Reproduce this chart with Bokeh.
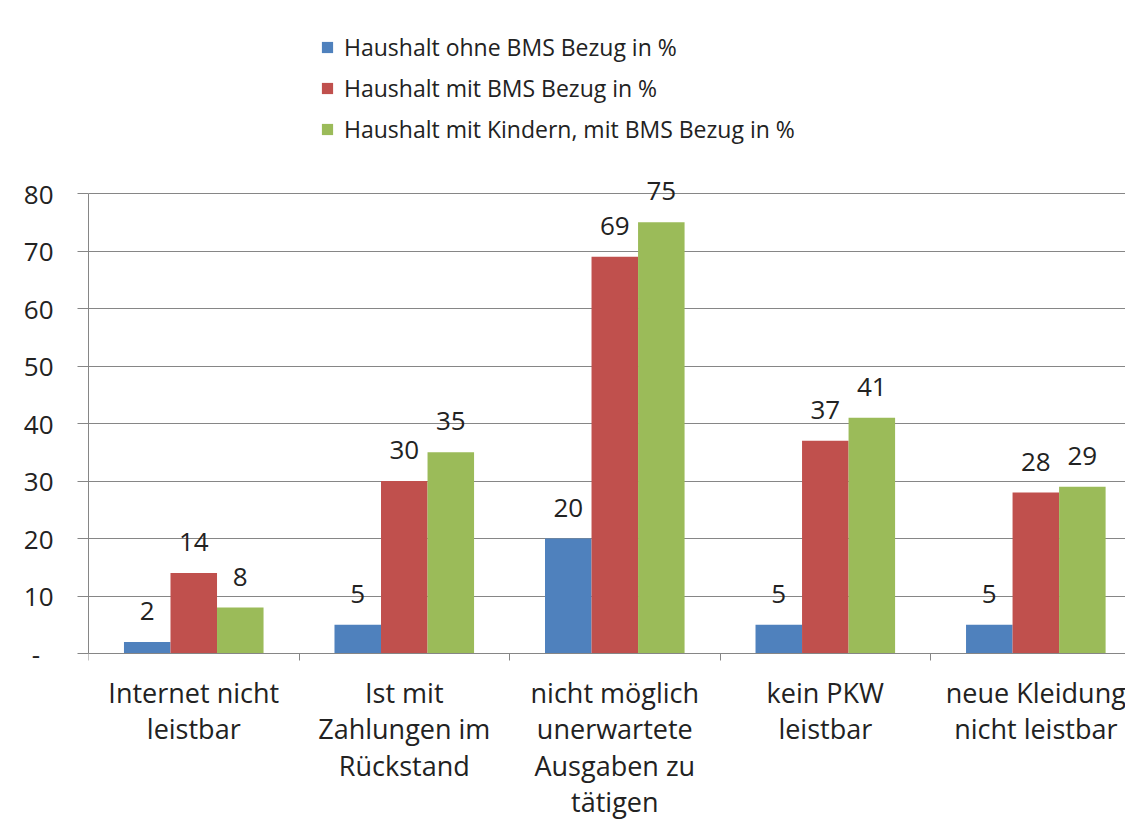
from bokeh.plotting import figure
from bokeh.models import (Range1d, FixedTicker, LabelSet, ColumnDataSource, Legend, LegendItem)
from bokeh.core.properties import value
from bokeh.embed import file_html
from bokeh.resources import INLINE

categories = ["Internet nicht\nleistbar", "Ist mit\nZahlungen im\nRückstand",
              "nicht möglich\nunerwartete\nAusgaben zu\ntätigen", "kein PKW\nleistbar",
              "neue Kleidung\nnicht leistbar"]
series_names = ["Haushalt ohne BMS Bezug in %", "Haushalt mit BMS Bezug in %",
                "Haushalt mit Kindern, mit BMS Bezug in %"]
ohne_bms = [2, 5, 20, 5, 5]
mit_bms = [14, 30, 69, 37, 28]
mit_kindern = [8, 35, 75, 41, 29]
y_ticks = [0, 10, 20, 30, 40, 50, 60, 70, 80]

colors = ["#4F81BD", "#C0504D", "#9BBB59"]
FONT = "Open Sans"
TXT = "#222222"
GRID = "#868686"

p = figure(width=1125, height=820, output_backend="svg", toolbar_location=None,
           x_range=Range1d(0, 4.926), y_range=Range1d(-29.04, 113.57),
           min_border_left=88, min_border_right=0, min_border_top=0,
           min_border_bottom=0)
p.outline_line_color = None
p.background_fill_color = "white"
p.border_fill_color = "white"

bw = 0.221
offsets = [-bw, 0.0, bw]
all_series = [ohne_bms, mit_bms, mit_kindern]
renderers = []
for k, vals in enumerate(all_series):
    xs = [i + 0.5 + offsets[k] for i in range(len(categories))]
    src = ColumnDataSource(dict(x=xs, top=vals, lbl=[str(v) for v in vals]))
    r = p.vbar(x="x", top="top", width=bw, bottom=0, source=src,
               fill_color=colors[k], line_color=None)
    renderers.append(r)
    p.add_layout(LabelSet(x="x", y="top", text="lbl", source=src, y_offset=22,
                          text_align="center", text_baseline="alphabetic",
                          text_font=value(FONT), text_font_size=value("26px"),
                          text_color=TXT))

# category labels, one centred line at a time
lx, ly, lt, loff = [], [], [], []
for i, c in enumerate(categories):
    for j, line in enumerate(c.split("\n")):
        lx.append(i + 0.5)
        ly.append(0)
        lt.append(line)
        loff.append(-38.5 - 36.6 * j)
cat_src = ColumnDataSource(dict(x=lx, y=ly, t=lt, off=loff))
p.add_layout(LabelSet(x="x", y="y", text="t", source=cat_src, y_offset="off",
                      text_align="center", text_baseline="middle",
                      text_font=value(FONT), text_font_size=value("27px"), text_color=TXT))

# x axis at y = 0
xa = p.xaxis[0]
xa.fixed_location = 0
xa.ticker = FixedTicker(ticks=[], minor_ticks=list(range(len(categories) + 1)))
xa.major_tick_line_color = None
xa.minor_tick_out = 7
xa.minor_tick_in = 0
xa.minor_tick_line_color = GRID
xa.axis_line_color = GRID

# y axis
ya = p.yaxis[0]
ya.ticker = FixedTicker(ticks=y_ticks)
ya.bounds = (0, 80)
ya.major_label_overrides = {0: "-\u00a0\u00a0"}
ya.major_label_text_font = FONT
ya.major_label_text_font_size = "26px"
ya.major_label_text_color = TXT
ya.major_tick_out = 11
ya.major_tick_in = 0
ya.major_tick_line_color = GRID
ya.minor_tick_line_color = None
ya.axis_line_color = GRID
ya.major_label_standoff = 24

p.xgrid.grid_line_color = None
p.ygrid.ticker = FixedTicker(ticks=y_ticks)
p.ygrid.grid_line_color = GRID

legend = Legend(items=[LegendItem(label=series_names[k], renderers=[renderers[k]]) for k in range(3)],
                location=(232, 675), orientation="vertical",
                glyph_width=14, glyph_height=14, label_standoff=10,
                label_text_font=FONT, label_text_font_size="23px", label_text_color=TXT,
                label_height=24, spacing=9, padding=0, margin=0,
                border_line_color=None, background_fill_alpha=0)
p.add_layout(legend, "center")

open("out.html", "w").write(file_html(p, INLINE))
